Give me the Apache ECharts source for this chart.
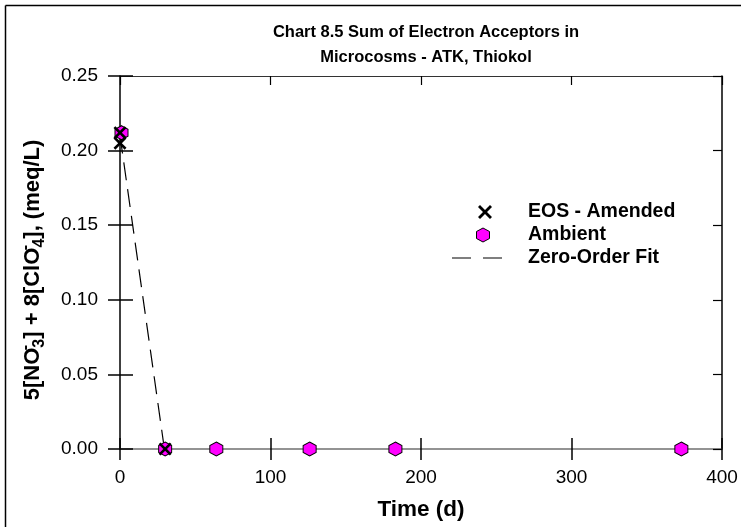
<!DOCTYPE html>
<html>
<head>
<meta charset="utf-8">
<script src="https://cdn.jsdelivr.net/npm/echarts@6/dist/echarts.min.js"></script>
<style>
  html, body { margin: 0; padding: 0; background: #fff; }
  #chart { width: 741px; height: 527px; }
</style>
</head>
<body>
<div id="chart"></div>
<script>
// Measured sums of electron acceptors (meq/L) over time (days)
const eosDays = [0, 0, 30];
const eosValues = [0.212, 0.205, 0];
const ambientDays = [1, 30, 64, 126, 183, 373];
const ambientValues = [0.212, 0, 0, 0, 0, 0];
// Zero-order fit endpoints
const fitDays = [0, 29.5];
const fitValues = [0.21, 0];
// Axis ranges and tick spacing
const xRange = [0, 400];
const xStep = 100;
const yRange = [0, 0.25];
const yStep = 0.05;

const FONT = '"Liberation Sans", Arial, Helvetica, sans-serif';
const HEX = 'path://M6.5,0 L13,3.5 L13,10.5 L6.5,14 L0,10.5 L0,3.5 Z';
const CROSS = 'path://M0,2 L2,0 L7,5 L12,0 L14,2 L9,7 L14,12 L12,14 L7,9 L2,14 L0,12 L5,7 Z';

const zip = (xs, ys) => xs.map((x, i) => [x, ys[i]]);

const chart = echarts.init(document.getElementById('chart'), null, { renderer: 'canvas' });

const baseX = {
  type: 'value', min: xRange[0], max: xRange[1], interval: xStep,
  splitLine: { show: false }
};
const baseY = {
  type: 'value', min: yRange[0], max: yRange[1], interval: yStep,
  splitLine: { show: false }
};

// Legend rows
const legendX = 528;
const legendRows = [212, 235, 258];
const legendFont = 'bold 19.5px ' + FONT;

function hexPoints(cx, cy) {
  return [[cx, cy - 7], [cx + 6.5, cy - 3.5], [cx + 6.5, cy + 3.5], [cx, cy + 7], [cx - 6.5, cy + 3.5], [cx - 6.5, cy - 3.5]];
}
function crossPoints(cx, cy) {
  const p = [[0,2],[2,0],[7,5],[12,0],[14,2],[9,7],[14,12],[12,14],[7,9],[2,14],[0,12],[5,7]];
  return p.map(([x, y]) => [cx - 7 + x, cy - 7 + y]);
}

const option = {
  backgroundColor: '#fff',
  animation: false,
  title: {
    text: 'Chart 8.5 Sum of Electron Acceptors in\nMicrocosms - ATK, Thiokol',
    left: 421, top: 15, textAlign: 'center',
    textStyle: { fontFamily: FONT, fontSize: 16.5, fontWeight: 'bold', color: '#000', lineHeight: 25 }
  },
  grid: { left: 120, top: 76, width: 602, height: 373, containLabel: false },
  xAxis: [
    Object.assign({}, baseX, {
      position: 'bottom',
      axisLine: { onZero: false, lineStyle: { color: '#707070', width: 1.5 } },
      axisTick: { inside: false, length: 11, lineStyle: { color: '#000', width: 1.5 } },
      axisLabel: { fontFamily: FONT, fontSize: 19, color: '#000', margin: 19 },
      name: 'Time (d)', nameLocation: 'middle', nameGap: 49,
      nameTextStyle: { fontFamily: FONT, fontSize: 22.5, fontWeight: 'bold', color: '#000' }
    }),
    Object.assign({}, baseX, {
      position: 'bottom',
      axisLine: { show: false, onZero: false },
      axisTick: { inside: true, length: 11, lineStyle: { color: '#000', width: 1.5 } },
      axisLabel: { show: false }
    }),
    Object.assign({}, baseX, {
      position: 'top',
      axisLine: { onZero: false, lineStyle: { color: '#333', width: 1.2 } },
      axisTick: { inside: true, length: 9, lineStyle: { color: '#000', width: 1.2 } },
      axisLabel: { show: false }
    })
  ],
  yAxis: [
    Object.assign({}, baseY, {
      position: 'left',
      axisLine: { onZero: false, lineStyle: { color: '#000', width: 1.5 } },
      axisTick: { inside: false, length: 12, lineStyle: { color: '#000', width: 1.5 } },
      axisLabel: { fontFamily: FONT, fontSize: 19, color: '#000', margin: 22,
        formatter: v => v.toFixed(2) },
      name: '{b|5[NO}{sup|-}{sub|3}{b|] + 8[ClO}{sup|-}{sub|4}{b|], (meq/L)}',
      nameLocation: 'middle', nameGap: 72, nameRotate: 90,
      nameTextStyle: {
        fontFamily: FONT, fontWeight: 'bold', color: '#000',
        padding: [0, 15, 0, 0],
        rich: {
          b: { fontFamily: FONT, fontSize: 22, fontWeight: 'bold', color: '#000', lineHeight: 30 },
          sub: { fontFamily: FONT, fontSize: 16, fontWeight: 'bold', color: '#000', lineHeight: 16, verticalAlign: 'bottom' },
          sup: { fontFamily: FONT, fontSize: 16, fontWeight: 'bold', color: '#000', lineHeight: 16, verticalAlign: 'top', width: 0.1 }
        }
      }
    }),
    Object.assign({}, baseY, {
      position: 'left',
      axisLine: { show: false, onZero: false },
      axisTick: { inside: true, length: 13, lineStyle: { color: '#000', width: 1.5 } },
      axisLabel: { show: false }
    }),
    Object.assign({}, baseY, {
      position: 'right',
      axisLine: { onZero: false, lineStyle: { color: '#000', width: 1.5 } },
      axisTick: { inside: true, length: 9, lineStyle: { color: '#000', width: 1.2 } },
      axisLabel: { show: false }
    })
  ],
  series: [
    {
      name: 'Zero-Order Fit', type: 'line', xAxisIndex: 0, yAxisIndex: 0,
      data: zip(fitDays, fitValues), symbol: 'none', z: 2,
      lineStyle: { color: '#000', width: 1.2, type: [18, 9] }
    },
    {
      name: 'Ambient', type: 'scatter', xAxisIndex: 0, yAxisIndex: 0,
      data: zip(ambientDays, ambientValues), symbol: HEX, symbolSize: [13, 14], z: 3,
      itemStyle: { color: '#ff00ff', borderColor: '#000', borderWidth: 1, opacity: 1 }
    },
    {
      name: 'EOS - Amended', type: 'scatter', xAxisIndex: 0, yAxisIndex: 0,
      data: zip(eosDays, eosValues), symbol: CROSS, symbolSize: 13, z: 4,
      itemStyle: { color: '#000', opacity: 1 }
    }
  ],
  graphic: [
    // outer frame
    { type: 'line', shape: { x1: 5.5, y1: 5.5, x2: 741, y2: 5.5 }, style: { stroke: '#000', lineWidth: 1.5 } },
    { type: 'line', shape: { x1: 5.5, y1: 5.5, x2: 5.5, y2: 527 }, style: { stroke: '#000', lineWidth: 1.5 } },
    // legend
    { type: 'polygon', shape: { points: crossPoints(485, legendRows[0]) }, style: { fill: '#000' } },
    { type: 'polygon', shape: { points: hexPoints(483, legendRows[1]) }, style: { fill: '#ff00ff', stroke: '#000', lineWidth: 1 } },
    { type: 'line', shape: { x1: 452, y1: legendRows[2], x2: 503, y2: legendRows[2] }, style: { stroke: '#000', lineWidth: 1.2, lineDash: [19, 12] } },
    { type: 'text', x: legendX, y: legendRows[0], style: { text: 'EOS - Amended', font: legendFont, fill: '#000', verticalAlign: 'middle' } },
    { type: 'text', x: legendX, y: legendRows[1], style: { text: 'Ambient', font: legendFont, fill: '#000', verticalAlign: 'middle' } },
    { type: 'text', x: legendX, y: legendRows[2], style: { text: 'Zero-Order Fit', font: legendFont, fill: '#000', verticalAlign: 'middle' } }
  ]
};

chart.setOption(option);
</script>
</body>
</html>
